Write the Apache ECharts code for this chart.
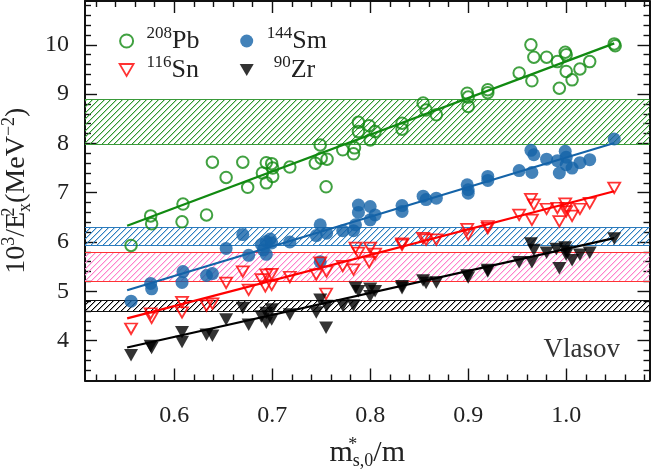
<!DOCTYPE html>
<html><head><meta charset="utf-8">
<script src="https://cdn.jsdelivr.net/npm/echarts@6/dist/echarts.min.js"></script>
<style>html,body{margin:0;padding:0;background:#fff}#c{width:651px;height:469px}</style>
</head><body><div id="c"></div>
<script>
// ---- axis ticks ----
const xMajor = [0.6, 0.7, 0.8, 0.9, 1.0];
const xMinor = [0.52,0.54,0.56,0.58,0.62,0.64,0.66,0.68,0.72,0.74,0.76,0.78,0.82,0.84,0.86,0.88,0.92,0.94,0.96,0.98,1.02,1.04,1.06,1.08];
const yMajor = [4, 5, 6, 7, 8, 9, 10];
const yMinor = [3.4,3.6,3.8,4.2,4.4,4.6,4.8,5.2,5.4,5.6,5.8,6.2,6.4,6.6,6.8,7.2,7.4,7.6,7.8,8.2,8.4,8.6,8.8,9.2,9.4,9.6,9.8,10.2,10.4,10.6,10.8];
const xRange = [0.509, 1.085];
const yRange = [3.19, 10.89];

// ---- series names ----
const names = ['208Pb', '144Sm', '116Sn', '90Zr'];

// ---- data ----
const pb = [[0.556,5.93],[0.576,6.53],[0.577,6.37],[0.609,6.77],[0.608,6.41],[0.633,6.55],[0.639,7.62],[0.653,7.31],
 [0.670,7.62],[0.675,7.11],[0.690,7.40],[0.694,7.61],[0.6995,7.59],[0.7005,7.33],[0.694,7.20],[0.7005,7.50],[0.718,7.52],
 [0.744,7.60],[0.749,7.97],[0.750,7.70],[0.756,7.68],[0.755,7.12],[0.772,7.87],[0.783,7.79],[0.784,7.91],[0.788,8.43],
 [0.788,8.24],[0.799,8.36],[0.800,8.07],[0.805,8.24],[0.8325,8.41],[0.8325,8.29],[0.854,8.82],[0.857,8.68],[0.8675,8.58],
 [0.899,9.02],[0.900,8.94],[0.900,8.75],[0.920,9.09],[0.920,9.03],[0.952,9.43],[0.965,9.27],[0.964,10.00],[0.967,9.75],
 [0.980,9.75],[0.991,9.66],[0.993,9.12],[0.999,9.85],[1.000,9.80],[1.000,9.46],[1.006,9.29],[1.014,9.51],[1.024,9.66],
 [1.049,10.02],[1.050,9.98]];
const sm = [[0.556,4.80],[0.576,5.16],[0.577,5.05],[0.609,5.40],[0.608,5.18],[0.633,5.32],[0.639,5.36],[0.653,5.87],
 [0.670,6.15],[0.676,5.73],[0.689,5.95],[0.694,6.01],[0.698,6.06],[0.6995,5.98],[0.691,5.84],[0.694,5.75],[0.718,6.00],
 [0.745,6.13],[0.749,6.35],[0.749,5.60],[0.7555,6.18],[0.772,6.23],[0.783,6.23],[0.785,6.35],[0.788,6.75],[0.788,6.60],
 [0.800,6.72],[0.800,6.45],[0.805,6.55],[0.8325,6.74],[0.8325,6.62],[0.854,6.93],[0.857,6.86],[0.8675,6.89],[0.899,7.16],
 [0.900,7.06],[0.900,6.99],[0.920,7.33],[0.920,7.25],[0.952,7.45],[0.965,7.41],[0.964,7.86],[0.967,7.77],[0.980,7.68],
 [0.991,7.65],[0.993,7.40],[0.999,7.84],[1.000,7.72],[1.000,7.57],[1.006,7.50],[1.014,7.61],[1.024,7.67],[1.049,8.09]];
const sn = [[0.556,4.24],[0.576,4.55],[0.577,4.46],[0.608,4.78],[0.608,4.57],[0.633,4.71],[0.639,4.75],[0.653,5.17],
 [0.670,5.40],[0.676,5.03],[0.689,5.24],[0.694,5.34],[0.6995,5.35],[0.693,5.10],[0.6995,5.13],[0.718,5.29],[0.745,5.34],
 [0.749,5.58],[0.7555,5.40],[0.755,4.95],[0.772,5.51],[0.783,5.44],[0.785,5.88],[0.788,5.78],[0.800,5.88],[0.799,5.59],
 [0.805,5.76],[0.8325,5.97],[0.8325,5.94],[0.854,6.08],[0.857,6.05],[0.8675,6.05],[0.899,6.26],[0.900,6.15],[0.920,6.32],
 [0.920,6.28],[0.952,6.55],[0.965,6.45],[0.964,6.87],[0.967,6.76],[0.980,6.67],[0.991,6.69],[0.993,6.42],[0.999,6.78],
 [1.000,6.69],[1.000,6.62],[1.006,6.53],[1.014,6.67],[1.024,6.79],[1.049,7.10]];
const zr = [[0.556,3.70],[0.576,3.89],[0.577,3.85],[0.608,4.17],[0.608,3.97],[0.633,4.12],[0.639,4.10],[0.653,4.43],
 [0.670,4.66],[0.676,4.32],[0.689,4.49],[0.694,4.56],[0.6995,4.63],[0.694,4.36],[0.6995,4.43],[0.718,4.53],[0.745,4.57],
 [0.749,4.83],[0.7555,4.70],[0.755,4.26],[0.772,4.71],[0.783,4.71],[0.785,5.07],[0.788,5.00],[0.800,5.05],[0.800,4.90],
 [0.805,5.00],[0.8325,5.10],[0.8325,5.06],[0.854,5.22],[0.857,5.17],[0.8675,5.18],[0.899,5.32],[0.900,5.28],[0.920,5.43],
 [0.920,5.40],[0.952,5.59],[0.965,5.59],[0.964,5.97],[0.967,5.84],[0.980,5.78],[0.990,5.86],[0.993,5.47],[0.999,5.89],
 [1.000,5.74],[1.000,5.80],[1.006,5.63],[1.014,5.74],[1.024,5.78],[1.049,6.07]];

// linear fit lines (end points)
const fitPb = [[0.552,6.33],[1.049,10.03]];
const fitSm = [[0.552,5.02],[1.049,8.01]];
const fitSn = [[0.552,4.45],[1.049,7.03]];
const fitZr = [[0.552,3.86],[1.049,6.08]];

// experimental bands [low, high]
const bandPb = [7.98, 8.90];
const bandSm = [5.94, 6.30];
const bandSn = [5.21, 5.79];
const bandZr = [4.60, 4.83];

// ---- styles ----
const SERIF = "'Liberation Serif','DejaVu Serif',serif";
const TXT = '#222';
const C = {pb:'#118a11', sm:'#1463a8', sn:'#ff0000', zr:'#000000'};
const hatchColors = ['#2f962f', '#2d7fc0', '#ff80cc', '#000000'];
const borderColors = ['#3a9a3a', '#2b7bbd', '#ff3333', '#111111'];

// crisp pixel hatch pattern ("/" direction, 6 px period)
function hatchPattern(color) {
  const n = 6;
  const cv = document.createElement('canvas');
  cv.width = n; cv.height = n;
  const g = cv.getContext('2d');
  g.fillStyle = color;
  for (let i = 0; i < n; i++) g.fillRect(n - 1 - i, i, 1, 1);
  g.globalAlpha = 0.35;
  for (let i = 0; i < n; i++) g.fillRect((n - i) % n, i, 1, 1);
  return {image: cv, repeat: 'repeat'};
}
const patterns = hatchColors.map(hatchPattern);

function xAx(pos, vals, len, main) {
  return {type:'value', position:pos, min:xRange[0], max:xRange[1],
    axisLine:{show:main, onZero:false, lineStyle:{color:'#111', width:2}},
    axisTick:{show:true, inside:true, length:len, customValues:vals, lineStyle:{color:'#111', width:1.4}},
    axisLabel:{show: main && pos==='bottom', customValues:vals, margin:23,
      formatter: v => v.toFixed(1), fontFamily:SERIF, fontSize:24, color:TXT},
    splitLine:{show:false}};
}
function yAx(pos, vals, len, main) {
  return {type:'value', position:pos, min:yRange[0], max:yRange[1],
    axisLine:{show:main, onZero:false, lineStyle:{color:'#111', width:2}},
    axisTick:{show:true, inside:true, length:len, customValues:vals, lineStyle:{color:'#111', width:1.4}},
    axisLabel:{show: main && pos==='left', customValues:vals, margin:16,
      formatter: v => String(v), fontFamily:SERIF, fontSize:24, color:TXT},
    splitLine:{show:false}};
}

const xAxes = [xAx('bottom', xMajor, 12, true), xAx('bottom', xMinor, 6, false),
               xAx('top', xMajor, 12, true), xAx('top', xMinor, 6, false)];
const yAxes = [yAx('left', yMajor, 12, true), yAx('left', yMinor, 6, false),
               yAx('right', yMajor, 12, true), yAx('right', yMinor, 6, false)];

xAxes[0].name = '{m|m}{sup|*}{sub|s,0}{m|/m}';
xAxes[0].nameLocation = 'middle';
xAxes[0].nameGap = 56;
xAxes[0].nameTextStyle = {color:TXT, fontFamily:SERIF, rich:{
  m:{fontFamily:SERIF, fontSize:30, lineHeight:34, color:TXT},
  sup:{fontFamily:SERIF, fontSize:18, lineHeight:18, verticalAlign:'top', width:0, color:TXT},
  sub:{fontFamily:SERIF, fontSize:18, lineHeight:18, verticalAlign:'bottom', color:TXT}}};

yAxes[0].name = '{m|10}{sup|3}{m|/E}{sup0|2}{sub|x}{m|(MeV}{sup|\u22122}{m|)}';
yAxes[0].nameLocation = 'middle';
yAxes[0].nameGap = 44;
yAxes[0].nameTextStyle = {color:TXT, fontFamily:SERIF, rich:{
  m:{fontFamily:SERIF, fontSize:28, lineHeight:34, color:TXT},
  sup:{fontFamily:SERIF, fontSize:18, lineHeight:18, verticalAlign:'top', color:TXT},
  sup0:{fontFamily:SERIF, fontSize:18, lineHeight:18, verticalAlign:'top', width:0, color:TXT},
  sub:{fontFamily:SERIF, fontSize:18, lineHeight:18, verticalAlign:'bottom', color:TXT}}};

function legendFmt(name) {
  const m = name.match(/^(\d+)(\D+)$/);
  const pad = name === '90Zr' ? '{pad2|}' : '{pad|}';
  return pad + '{s|' + m[1] + '}{m|' + m[2] + '}';
}
const legendRich = {
  m:{fontFamily:SERIF, fontSize:26, lineHeight:32, color:TXT},
  s:{fontFamily:SERIF, fontSize:17, lineHeight:17, verticalAlign:'top', color:TXT},
  pad:{width:8}, pad2:{width:15}};
const triDown = 'path://M0,0L14,0L7,12Z';
const legendIcons = {
  '208Pb': {icon:'circle'},
  '144Sm': {icon:'circle'},
  '116Sn': {icon:triDown, itemStyle:{color:'rgba(255,255,255,0)', borderColor:C.sn, borderWidth:1.8}},
  '90Zr':  {icon:triDown, itemStyle:{color:C.zr}}
};
function legendCol(data, left) {
  return {data:data.map(n => Object.assign({name:n}, legendIcons[n])), orient:'vertical', left:left, top:20,
    itemWidth:14, itemHeight:13, itemGap:0,
    selectedMode:false, formatter:legendFmt, textStyle:{rich:legendRich, color:TXT}};
}

// hatched bands drawn through the axis scales
const bandData = [[bandPb[0], bandPb[1], 0], [bandSm[0], bandSm[1], 1], [bandSn[0], bandSn[1], 2], [bandZr[0], bandZr[1], 3]];
function renderBand(params, api) {
  const lo = api.value(0), hi = api.value(1), k = api.value(2);
  const cs = params.coordSys;
  const x0 = cs.x, x1 = cs.x + cs.width;
  const yTop = Math.round(api.coord([xRange[0], hi])[1]);
  const yBot = Math.round(api.coord([xRange[0], lo])[1]);
  return {type:'group', children:[
    {type:'rect', shape:{x:x0, y:yTop, width:x1 - x0, height:yBot - yTop}, style:{fill:patterns[k]}},
    {type:'line', shape:{x1:x0, y1:yTop + 0.5, x2:x1, y2:yTop + 0.5}, style:{stroke:borderColors[k], lineWidth:1.2}},
    {type:'line', shape:{x1:x0, y1:yBot + 0.5, x2:x1, y2:yBot + 0.5}, style:{stroke:borderColors[k], lineWidth:1.2}}
  ]};
}

function fitLine(name, d, color) {
  return {type:'line', name:name, data:d, symbol:'none', z:3, silent:true,
    lineStyle:{color:color, width:2.2}, itemStyle:{color:color}};
}

const option = {
  animation:false,
  backgroundColor:'#fff',
  grid:{left:85, right:1.5, top:1, bottom:88.5, containLabel:false, outerBoundsMode:'none'},
  xAxis:xAxes,
  yAxis:yAxes,
  legend:[legendCol([names[0], names[2]], 113.7), legendCol([names[1], names[3]], 234.7)],
  title:{text:'Vlasov', right:26, top:331, textStyle:{fontFamily:SERIF, fontSize:27, fontWeight:'normal', color:'#333'}},
  series:[
    {type:'custom', name:'bands', data:bandData, z:1, silent:true, clip:true,
      encode:{y:[0, 1]}, renderItem:renderBand},
    fitLine('fitPb', fitPb, C.pb),
    fitLine('fitSm', fitSm, C.sm),
    fitLine('fitSn', fitSn, C.sn),
    fitLine('fitZr', fitZr, C.zr),
    {type:'scatter', name:names[0], data:pb, z:4, symbol:'circle', symbolSize:11.5,
      itemStyle:{color:'rgba(255,255,255,0)', borderColor:C.pb, borderWidth:2}},
    {type:'scatter', name:names[1], data:sm, z:4, symbol:'circle', symbolSize:13,
      itemStyle:{color:C.sm}},
    {type:'scatter', name:names[2], data:sn, z:4, symbol:'triangle', symbolRotate:180, symbolSize:[12,10.5],
      itemStyle:{color:'rgba(255,255,255,0)', borderColor:C.sn, borderWidth:1.8}},
    {type:'scatter', name:names[3], data:zr, z:4, symbol:'triangle', symbolRotate:180, symbolSize:[14,12.5],
      itemStyle:{color:C.zr}}
  ]
};
const chart = echarts.init(document.getElementById('c'), null, {renderer:'canvas'});
chart.setOption(option);
</script></body></html>
